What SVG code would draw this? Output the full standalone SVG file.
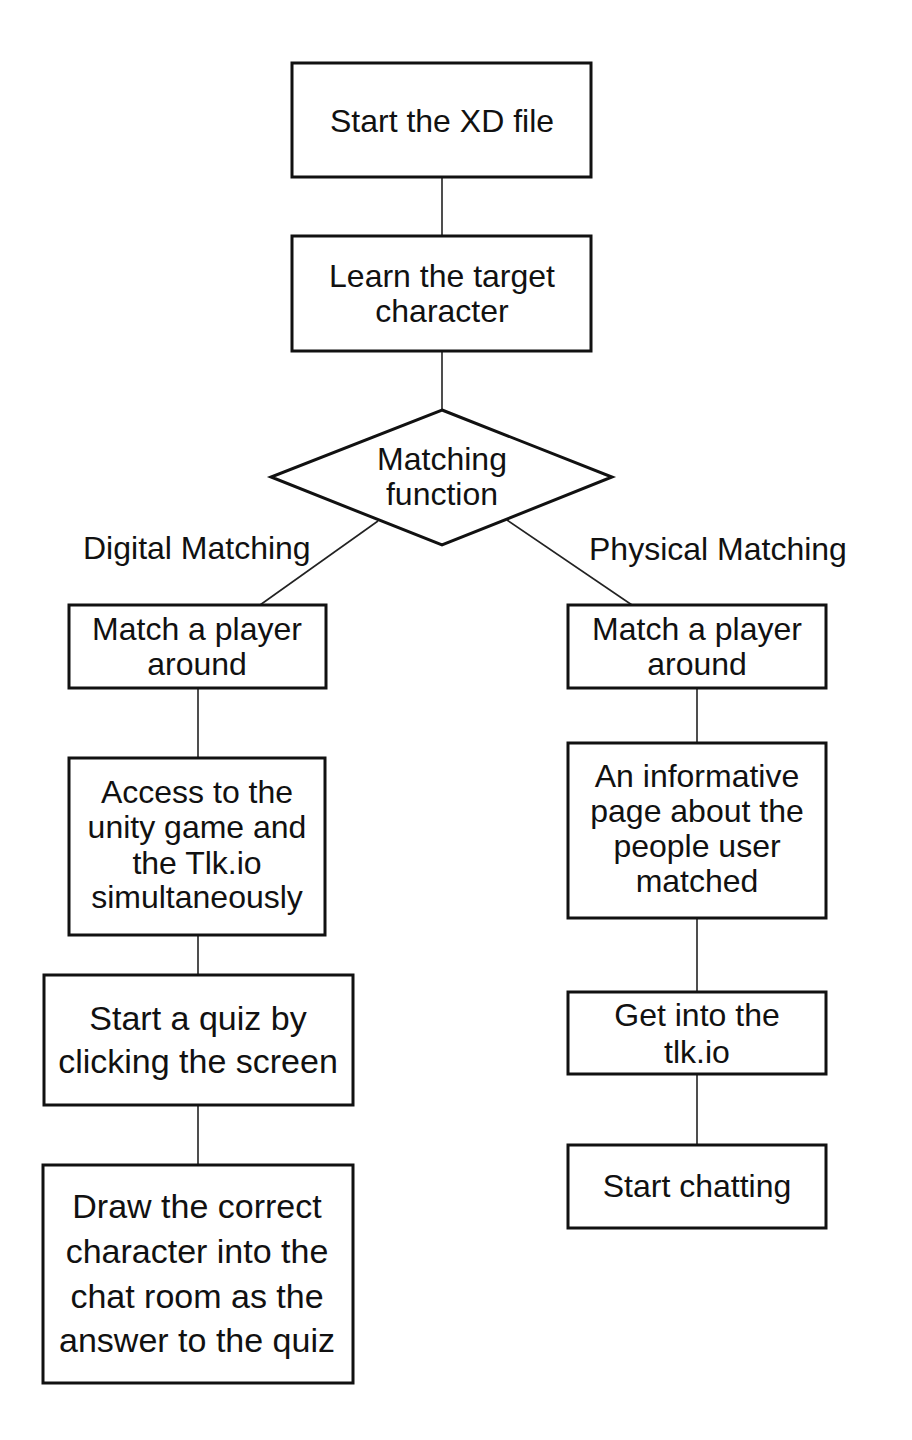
<svg xmlns="http://www.w3.org/2000/svg" width="912" height="1440" viewBox="0 0 912 1440">
<style>
.box{fill:#fff;stroke:#111;stroke-width:3}
.conn line{stroke:#222;stroke-width:1.6}
text{font-family:"Liberation Sans",Arial,Helvetica,sans-serif;font-size:32px;fill:#111;text-anchor:middle}
.big{font-size:34px}
.lbl{text-anchor:start}
</style>
<rect width="912" height="1440" fill="#fff"/>
<g id="connectors" class="conn">
<line x1="442" y1="177" x2="442" y2="236"/>
<line x1="442" y1="351" x2="442" y2="410"/>
<line x1="378" y1="521" x2="260" y2="605"/>
<line x1="507" y1="520" x2="632" y2="605"/>
<line x1="198" y1="688" x2="198" y2="758"/>
<line x1="198" y1="935" x2="198" y2="975"/>
<line x1="198" y1="1105" x2="198" y2="1165"/>
<line x1="697" y1="688" x2="697" y2="743"/>
<line x1="697" y1="918" x2="697" y2="992"/>
<line x1="697" y1="1074" x2="697" y2="1145"/>
</g>
<g id="start">
<rect class="box" x="292" y="63" width="299" height="114"/>
<text x="442" y="132">Start the XD file</text>
</g>
<g id="learn">
<rect class="box" x="292" y="236" width="299" height="115"/>
<text x="442" y="287">Learn the target</text>
<text x="442" y="322">character</text>
</g>
<g id="matching">
<polygon class="box" points="442,410 612,477 442,545 271,477"/>
<text x="442" y="470">Matching</text>
<text x="442" y="505">function</text>
</g>
<g id="label-digital">
<text class="lbl" x="83" y="559">Digital Matching</text>
</g>
<g id="label-physical">
<text class="lbl" x="589" y="560">Physical Matching</text>
</g>
<g id="match-left">
<rect class="box" x="69" y="605" width="257" height="83"/>
<text x="197" y="640">Match a player</text>
<text x="197" y="675">around</text>
</g>
<g id="access">
<rect class="box" x="69" y="758" width="256" height="177"/>
<text x="197" y="803">Access to the</text>
<text x="197" y="838">unity game and</text>
<text x="197" y="874">the Tlk.io</text>
<text x="197" y="908">simultaneously</text>
</g>
<g id="quiz">
<rect class="box" x="44" y="975" width="309" height="130"/>
<text class="big" x="198" y="1030">Start a quiz by</text>
<text class="big" x="198" y="1073">clicking the screen</text>
</g>
<g id="draw">
<rect class="box" x="43" y="1165" width="310" height="218"/>
<text class="big" x="197" y="1218">Draw the correct</text>
<text class="big" x="197" y="1263">character into the</text>
<text class="big" x="197" y="1308">chat room as the</text>
<text class="big" x="197" y="1352">answer to the quiz</text>
</g>
<g id="match-right">
<rect class="box" x="568" y="605" width="258" height="83"/>
<text x="697" y="640">Match a player</text>
<text x="697" y="675">around</text>
</g>
<g id="informative">
<rect class="box" x="568" y="743" width="258" height="175"/>
<text x="697" y="787">An informative</text>
<text x="697" y="822">page about the</text>
<text x="697" y="857">people user</text>
<text x="697" y="892">matched</text>
</g>
<g id="getinto">
<rect class="box" x="568" y="992" width="258" height="82"/>
<text x="697" y="1026">Get into the</text>
<text x="697" y="1063">tlk.io</text>
</g>
<g id="chatting">
<rect class="box" x="568" y="1145" width="258" height="83"/>
<text x="697" y="1197">Start chatting</text>
</g>
</svg>
